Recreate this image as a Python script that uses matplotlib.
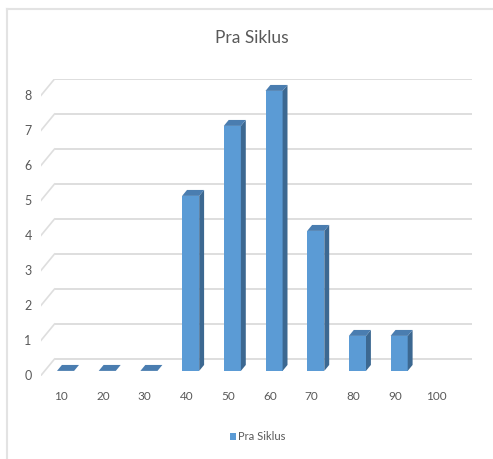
import matplotlib
matplotlib.use("Agg")
import matplotlib.pyplot as plt
from matplotlib.patches import Polygon, Rectangle
from matplotlib import font_manager

categories = ["10", "20", "30", "40", "50", "60", "70", "80", "90", "100"]
values = [0, 0, 0, 5, 7, 8, 4, 1, 1, None]
yticks = [0, 1, 2, 3, 4, 5, 6, 7, 8]
title = "Pra Siklus"
series_name = "Pra Siklus"

names = {f.name for f in font_manager.fontManager.ttflist}
fam = [n for n in ["Liberation Sans Narrow", "Lato"] if n in names][:1] or ["DejaVu Sans"]
plt.rcParams["font.family"] = fam + ["DejaVu Sans"]

W, H = 493, 459
fig = plt.figure(figsize=(W / 100, H / 100), dpi=100)

# pixel geometry
cat_px = 41.7
val_px = 35.0
front_left = 40.5
front_zero = 376.0
dx_px, dy_px = 14.0, 17.0
depth_x = dx_px / cat_px
depth_y = dy_px / val_px
ymax = 8 + depth_y
xmin, xmax = -0.5, 9.5 + depth_x

ax_left = front_left
ax_w = (xmax - xmin) * cat_px
ax_bottom = H - front_zero
ax_h = ymax * val_px
ax = fig.add_axes([ax_left / W, ax_bottom / H, ax_w / W, ax_h / H])
ax.set_xlim(xmin, xmax)
ax.set_ylim(0, ymax)
ax.axis("off")

grid_c = "#dedede"
for v in yticks:
    ax.plot([xmin + depth_x, 9.5 + depth_x], [v + depth_y, v + depth_y],
            color=grid_c, lw=1.4, solid_capstyle="butt", zorder=1)
    ax.plot([xmin, xmin + depth_x], [v, v + depth_y], color=grid_c, lw=1.2, zorder=1)
    ax.text(xmin - 12.5 / cat_px, v, str(v), ha="center", va="center",
            fontsize=9, color="#595959")

for i, c in enumerate(categories):
    ax.text(i, -21 / val_px, c, ha="center", va="center", fontsize=8.5, color="#595959")

front_c = "#5b9bd5"
side_c = "#3c6891"
top_c = "#4a7db0"
bw = 0.41
d0, d1 = 0.3, 0.65
for i, v in enumerate(values):
    if v is None:
        continue
    x0 = i - bw / 2 + d0 * depth_x
    x1 = x0 + bw
    yb = d0 * depth_y
    ox = (d1 - d0) * depth_x
    oy = (d1 - d0) * depth_y
    if v > 0:
        ax.add_patch(Rectangle((x0, yb), bw, v, facecolor=front_c, edgecolor="none", zorder=3))
        ax.add_patch(Polygon([(x1, yb), (x1 + ox, yb + oy), (x1 + ox, yb + v + oy), (x1, yb + v)],
                             closed=True, facecolor=side_c, edgecolor="none", zorder=3))
    ax.add_patch(Polygon([(x0, yb + v), (x1, yb + v), (x1 + ox, yb + v + oy), (x0 + ox, yb + v + oy)],
                         closed=True, facecolor=top_c, edgecolor="none", zorder=4))

# title
fig.text(252 / W, 1 - 38 / H, title, ha="center", va="center", fontsize=12.5, color="#595959")

# legend
fig.patches.append(Rectangle((229.5 / W, 1 - 440 / H), 6 / W, 7 / H, transform=fig.transFigure,
                             facecolor=front_c, edgecolor="none"))
fig.text(238 / W, 1 - 436 / H, series_name, ha="left", va="center", fontsize=8, color="#595959")

# chart border
bc = "#e3e3e3"
fig.add_artist(plt.Line2D([7 / W, 7 / W], [0, 1 - 9 / H], transform=fig.transFigure, color=bc, lw=1.5))
fig.add_artist(plt.Line2D([7 / W, 1], [1 - 9 / H, 1 - 9 / H], transform=fig.transFigure, color=bc, lw=1.5))

fig.savefig("out.png", dpi=100, facecolor="white")
